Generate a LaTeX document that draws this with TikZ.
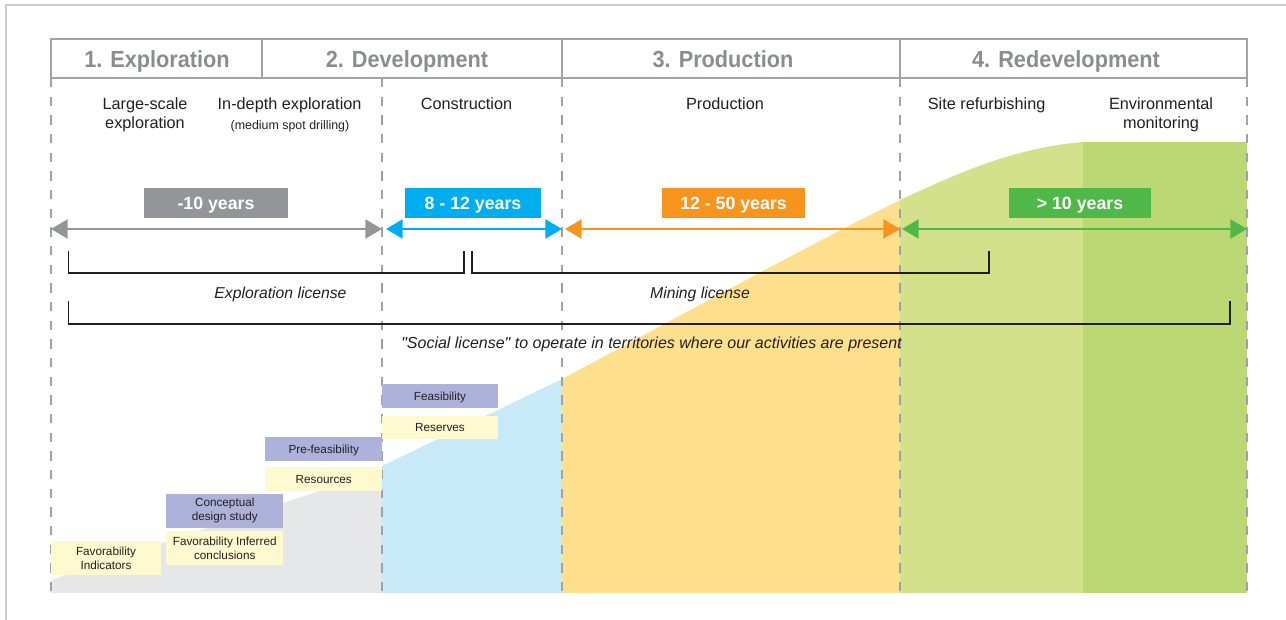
\documentclass[tikz,border=0pt]{standalone}
\usepackage{fontspec}
\setmainfont{Liberation Sans}[Ligatures=TeXOff]
\newfontfamily\hdfont{Liberation Sans}[FakeStretch=0.93]
\usetikzlibrary{arrows.meta}
\definecolor{ink}{HTML}{231F20}
\definecolor{hdrtext}{HTML}{8A8C8F}
\definecolor{hdrline}{HTML}{A1A3A6}
\definecolor{dashgray}{HTML}{A0A2A5}
\definecolor{framegray}{HTML}{CACBCD}
\definecolor{cgray}{HTML}{939598}
\definecolor{ccyan}{HTML}{00AEEF}
\definecolor{corange}{HTML}{F7941D}
\definecolor{cgreen}{HTML}{50B848}
\definecolor{fgray}{HTML}{E6E7E8}
\definecolor{fcyan}{HTML}{C8EAF8}
\definecolor{forange}{HTML}{FDDF8E}
\definecolor{flgreen}{HTML}{D3E28A}
\definecolor{fdgreen}{HTML}{BBD875}
\definecolor{purp}{HTML}{ADB2DA}
\definecolor{yel}{HTML}{FFF9D0}
\begin{document}
\begin{tikzpicture}[x=0.75pt,y=-0.75pt,
  hdr/.style={font=\hdfont\bfseries\fontsize{17.5}{20}\selectfont, text=hdrtext, anchor=base, inner sep=0pt},
  sub/.style={font=\fontsize{12.2}{14}\selectfont, text=ink, anchor=base, inner sep=0pt},
  subsmall/.style={font=\fontsize{9.3}{11}\selectfont, text=ink, anchor=base, inner sep=0pt},
  lic/.style={font=\itshape\fontsize{11.8}{14}\selectfont, text=ink, anchor=base, inner sep=0pt},
  yrbox/.style={font=\bfseries\fontsize{13.3}{15}\selectfont, text=white, inner sep=0pt, minimum height=22.5pt, text height=9.5pt, text depth=0pt},
  yarrow/.style={line width=2pt, {Triangle[length=12.5pt,width=14.2pt]}-{Triangle[length=12.5pt,width=14.2pt]}},
  bracketline/.style={draw=ink, line width=1.2pt},
  phaseline/.style={draw=dashgray, line width=1.5pt, dash pattern=on 7pt off 7pt},
  hdrbox/.style={draw=hdrline, line width=1.6pt},
  stagebox/.style={inner sep=0pt, font=\fontsize{8.8}{10.5}\selectfont, text=ink, align=center},
  oneline/.style={text height=6.3pt, text depth=0pt},
]
\useasboundingbox (0,0) rectangle (1286,620);
% outer frame
\draw[framegray, line width=1.2pt] (6,620) -- (6,5) -- (1286,5);

% coloured areas
\fill[fgray] (51,593) -- (51,580) -- (382,470) -- (382,593) -- cycle;
\fill[fcyan] (382,593) -- (382,466) -- (562,379) -- (562,593) -- cycle;
\fill[forange] (562,593) -- (562,379) .. controls (680,316) and (790,255) .. (900,200) -- (900,593) -- cycle;
\fill[flgreen] (900,593) -- (900,200) .. controls (950,177) and (1010,148) .. (1083,142) -- (1083,593) -- cycle;
\fill[fdgreen] (1083,593) -- (1083,142) -- (1247,142) -- (1247,593) -- cycle;

% phase separators
\foreach \x/\n in {51/0,382/1,562/2,900/3,1247/4}{
  \coordinate (pt\n) at (\x,78);
  \coordinate (pb\n) at (\x,593);
  \draw[phaseline] (pt\n) -- (pb\n);
}

% header
\draw[hdrbox] (51,39) rectangle (1247,78);
\draw[hdrbox] (262,39) -- (262,78);
\draw[hdrbox] (562,39) -- (562,78);
\draw[hdrbox] (900,39) -- (900,78);
\node[hdr] (h1) at (157,67.5) {1. Exploration};
\node[hdr] (h2) at (407,67.5) {2. Development};
\node[hdr] (h3) at (723,67.5) {3. Production};
\node[hdr] (h4) at (1066,67.5) {4. Redevelopment};

% sub-phases
\node[sub] (s1a) at (145,110) {Large-scale};
\node[sub] (s1b) at (145,129) {exploration};
\node[sub] (s2a) at (289.6,110) {In-depth exploration};
\node[subsmall] (s2b) at (290,129.5) {(medium spot drilling)};
\node[sub] (s3) at (466.5,110) {Construction};
\node[sub] (s4) at (725,110) {Production};
\node[sub] (s5) at (986.6,110) {Site refurbishing};
\node[sub] (s6a) at (1161,110) {Environmental};
\node[sub] (s6b) at (1161,129) {monitoring};

% durations
\node[yrbox, fill=cgray, minimum width=108.6pt] (y1) at (216,203) {-10 years};
\node[yrbox, fill=ccyan, minimum width=101.5pt] (y2) at (473,203) {8 - 12 years};
\node[yrbox, fill=corange, minimum width=107.3pt] (y3) at (733.5,203) {12 - 50 years};
\node[yrbox, fill=cgreen, minimum width=106.7pt] (y4) at (1080,203) {> 10 years};

\coordinate (a0) at (51,229);
\coordinate (a1) at (382,229);
\coordinate (a1b) at (386,229);
\coordinate (a2) at (562,229);
\coordinate (a2b) at (565,229);
\coordinate (a3) at (900,229);
\coordinate (a3b) at (902,229);
\coordinate (a4) at (1247,229);
\draw[yarrow, color=cgray] (a0) -- (a1);
\draw[yarrow, color=ccyan] (a1b) -- (a2);
\draw[yarrow, color=corange] (a2b) -- (a3);
\draw[yarrow, color=cgreen] (a3b) -- (a4);

% licenses
\coordinate (el1) at (68.5,251);
\coordinate (el2) at (464,251);
\coordinate (ml1) at (472,251);
\coordinate (ml2) at (989,251);
\coordinate (sl1) at (68.5,301);
\coordinate (sl2) at (1230,301);
\draw[bracketline] (el1) -- ++(0,22) -| (el2);
\draw[bracketline] (ml1) -- ++(0,22) -| (ml2);
\draw[bracketline] (sl1) -- ++(0,23) -| (sl2);
\node[lic] (l1) at (280.5,298.5) {Exploration license};
\node[lic] (l2) at (700,298.5) {Mining license};
\node[lic, font=\itshape\fontsize{12}{14}\selectfont] (l3) at (651.5,348.5) {"Social license" to operate in territories where our activities are present};

% study stages
\node[stagebox, fill=yel, minimum width=82.5pt, minimum height=25.3pt] (favind) at (106,557.9) {Favorability\\Indicators};
\node[stagebox, fill=yel, minimum width=88.1pt, minimum height=25.5pt] (favinf) at (224.75,548) {Favorability Inferred\\conclusions};
\node[stagebox, fill=purp, minimum width=88.1pt, minimum height=25.3pt] (concept) at (224.75,510.85) {Conceptual\\design study};
\node[stagebox, oneline, fill=yel, minimum width=87.4pt, minimum height=17.6pt] (resources) at (323.75,479) {Resources};
\node[stagebox, oneline, fill=purp, minimum width=87.4pt, minimum height=17.8pt] (prefeas) at (323.75,448.85) {Pre-feasibility};
\node[stagebox, oneline, fill=yel, minimum width=87pt, minimum height=17.5pt] (reserves) at (440,427.35) {Reserves};
\node[stagebox, oneline, fill=purp, minimum width=87pt, minimum height=17.8pt] (feas) at (440,395.85) {Feasibility};
\end{tikzpicture}
\end{document}
